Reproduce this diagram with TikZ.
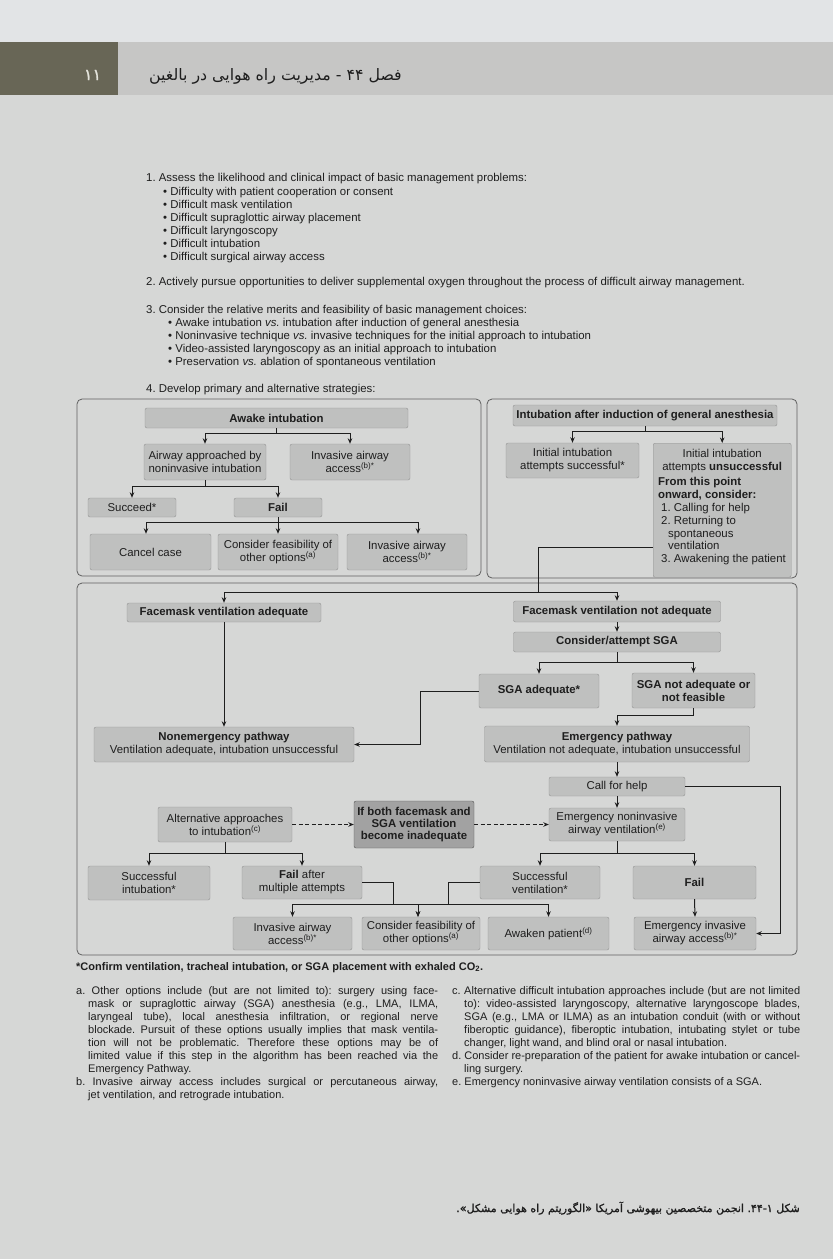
\documentclass[tikz,border=0pt]{standalone}
\usepackage{fontspec}
\setmainfont{Liberation Sans}
\newfontfamily\fa[Script=Arabic]{DejaVu Sans}
\newfontfamily\fab[Script=Arabic,FakeBold=1.2]{DejaVu Sans}
\TeXXeTstate=1
\frenchspacing
\usetikzlibrary{arrows.meta}
\definecolor{pagebg}{RGB}{214,215,214}
\definecolor{topstrip}{RGB}{226,228,230}
\definecolor{band}{RGB}{198,198,197}
\definecolor{darkbox}{RGB}{104,102,86}
\definecolor{numcol}{RGB}{228,228,220}
\definecolor{boxfill}{RGB}{191,192,191}
\definecolor{boxline}{RGB}{148,148,148}
\definecolor{darkfill}{RGB}{162,162,162}
\definecolor{darkline}{RGB}{85,85,85}
\definecolor{panelline}{RGB}{95,95,95}
\definecolor{ink}{RGB}{30,30,30}
\newcommand\nodefont{\fontsize{11.4}{13}\selectfont}
\newcommand\bodyfont{\fontsize{11.4}{13}\selectfont}
\newcommand\fnfont{\fontsize{11}{13}\selectfont}
\newcommand\mkbox[7][]{\node[box,#1,minimum width=#5pt-#3pt,minimum height=#6pt-#4pt] (#2) at ({(#3+#5)/2},{(#4+#6)/2}) {#7};}
\begin{document}
\begin{tikzpicture}[x=1pt,y=-1pt,
  box/.style={draw=boxline, fill=boxfill, rounded corners=2pt, align=center, inner sep=1pt, text=ink, font=\nodefont},
  panel/.style={draw=panelline, line width=0.8pt, rounded corners=5pt},
  ln/.style={draw=ink, line width=1pt},
  arr/.style={ln, -{Stealth[length=5.5pt,width=4.5pt]}},
  darr/.style={arr, dash pattern=on 4pt off 2.5pt},
  txt/.style={anchor=base west, inner sep=0, text=ink, font=\bodyfont}]
\useasboundingbox (0,0) rectangle (833,1259);
\fill[pagebg] (0,0) rectangle (833,1259);
\fill[topstrip] (0,0) rectangle (833,42);
\fill[band] (0,42) rectangle (833,95);
\fill[darkbox] (0,42) rectangle (118,95);
\node[font=\fab\fontsize{16}{18}\selectfont, text=numcol, inner sep=0] (pg) at (92.5,75) {۱۱};
\node[anchor=east, font=\fa\fontsize{15.8}{18}\selectfont, text=ink, inner sep=0] (title) at (402,76) {\beginR فصل ۴۴ - مدیریت راه هوایی در بالغین\endR};

% ---- numbered text
\node[txt] (t1) at (146,181) {1. Assess the likelihood and clinical impact of basic management problems:};
\node[txt] (t1a) at (163,195) {• Difficulty with patient cooperation or consent};
\node[txt] (t1b) at (163,208) {• Difficult mask ventilation};
\node[txt] (t1c) at (163,221) {• Difficult supraglottic airway placement};
\node[txt] (t1d) at (163,234) {• Difficult laryngoscopy};
\node[txt] (t1e) at (163,247) {• Difficult intubation};
\node[txt] (t1f) at (163,260) {• Difficult surgical airway access};
\node[txt] (t2) at (146,285) {2. Actively pursue opportunities to deliver supplemental oxygen throughout the process of difficult airway management.};
\node[txt] (t3) at (146,313) {3. Consider the relative merits and feasibility of basic management choices:};
\node[txt] (t3a) at (168,326) {• Awake intubation \textit{vs.} intubation after induction of general anesthesia};
\node[txt] (t3b) at (168,339) {• Noninvasive technique \textit{vs.} invasive techniques for the initial approach to intubation};
\node[txt] (t3c) at (168,352) {• Video-assisted laryngoscopy as an initial approach to intubation};
\node[txt] (t3d) at (168,365) {• Preservation \textit{vs.} ablation of spontaneous ventilation};
\node[txt] (t4) at (146,392) {4. Develop primary and alternative strategies:};

% ---- panels
\draw[panel] (77,399) rectangle (481,576);
\draw[panel] (487,399) rectangle (797,578);
\draw[panel] (77,583) rectangle (797,955);

% ---- awake panel
\mkbox{awake}{145}{408}{408}{428}{\textbf{Awake intubation}}
\mkbox{approach}{144}{444}{266}{480}{Airway approached by\\noninvasive intubation}
\mkbox{invA}{290}{444}{410}{480}{Invasive airway\\access\textsuperscript{(b)*}}
\mkbox{succeed}{88}{498}{176}{517}{Succeed*}
\mkbox{failA}{234}{498}{322}{517}{\textbf{Fail}}
\mkbox{cancel}{90}{534}{211}{570}{Cancel case}
\mkbox{consA}{218}{534}{338}{570}{Consider feasibility of\\other options\textsuperscript{(a)}}
\mkbox{invA2}{347}{534}{467}{570}{Invasive airway\\access\textsuperscript{(b)*}}
\draw[arr] (awake.south) -- ++(0,5) -| (approach.north);
\draw[arr] (awake.south) -- ++(0,5) -| (invA.north);
\draw[arr] (approach.south) -- ++(0,6) -| (succeed.north);
\draw[arr] (approach.south) -- ++(0,6) -| (failA.north);
\draw[arr] (failA.south) -- ++(0,5) -| ([xshift=-4.5pt]cancel.north);
\draw[arr] (failA.south) -- (consA.north);
\draw[arr] (failA.south) -- ++(0,5) -| ([xshift=11pt]invA2.north);

% ---- general anesthesia panel
\mkbox{intub}{513}{405}{777}{426}{\textbf{Intubation after induction of general anesthesia}}
\mkbox{initS}{506}{443}{639}{478}{Initial intubation\\attempts successful*}
\node[box, anchor=north west, minimum width=138pt, minimum height=134pt, inner sep=0pt, align=left] (unsucc) at (653,443) {\parbox[t][134pt][t]{138pt}{\fontsize{11.4}{12.8}\selectfont
  \centering\rule{0pt}{14pt}Initial intubation\\attempts \textbf{unsuccessful}\par
  \vspace{3pt}\raggedright
  \leftskip=5pt \textbf{From this point}\par
  \leftskip=5pt \textbf{onward, consider:}\par
  \leftskip=8pt 1. Calling for help\par
  \leftskip=8pt 2. Returning to\par
  \leftskip=15pt spontaneous\par
  \leftskip=15pt ventilation\par
  \leftskip=8pt 3. Awakening the patient\par}};
\draw[arr] (intub.south) -- ++(0,5) -| (initS.north);
\draw[arr] (intub.south) -- ++(0,5) -| (unsucc.north);

% ---- lower panel
\mkbox{fmA}{127}{603}{321}{622}{\textbf{Facemask ventilation adequate}}
\mkbox{fmN}{513.5}{601}{720.5}{622}{\textbf{Facemask ventilation not adequate}}
\mkbox{sgaC}{513.5}{632}{720.5}{652}{\textbf{Consider/attempt SGA}}
\mkbox{sgaA}{479}{674}{599}{708}{\textbf{SGA adequate*}}
\mkbox{sgaN}{632}{673}{755}{708}{\textbf{SGA not adequate or}\\\textbf{not feasible}}
\mkbox{nonE}{94}{727}{354}{762}{\textbf{Nonemergency pathway}\\Ventilation adequate, intubation unsuccessful}
\mkbox{emP}{484.5}{726}{749.5}{762}{\textbf{Emergency pathway}\\Ventilation not adequate, intubation unsuccessful}
\mkbox{callH}{549}{777}{685}{796}{Call for help}
\mkbox{emN}{549}{808}{685}{841}{Emergency noninvasive\\airway ventilation\textsuperscript{(e)}}
\mkbox[fill=darkfill, draw=darkline, font=\fontsize{11.4}{12.2}\selectfont\bfseries]{ifBoth}{354}{801}{474}{848}{If both facemask and\\SGA ventilation\\become inadequate}
\mkbox{alt}{158}{807}{292}{842}{Alternative approaches\\to intubation\textsuperscript{(c)}}
\mkbox{succI}{88}{866}{210}{900}{Successful\\intubation*}
\mkbox{failM}{242}{866}{362}{899}{\textbf{Fail} after\\multiple attempts}
\mkbox{succV}{480}{866}{600}{899}{Successful\\ventilation*}
\mkbox{failE}{633}{866}{756}{899}{\textbf{Fail}}
\mkbox{invB}{233}{917}{352}{950}{Invasive airway\\access\textsuperscript{(b)*}}
\mkbox{consB}{362}{917}{480}{950}{Consider feasibility of\\other options\textsuperscript{(a)}}
\mkbox{awaken}{488}{917}{609}{950}{Awaken patient\textsuperscript{(d)}}
\mkbox{emI}{634}{917}{756}{950}{Emergency invasive\\airway access\textsuperscript{(b)*}}

\coordinate (jt) at (538,592);
\draw[ln] ([yshift=-37pt]unsucc.west) -| (jt);
\draw[arr] (jt) -| (fmA.north);
\draw[arr] (jt) -| (fmN.north);
\draw[arr] (fmN.south) -- (sgaC.north);
\draw[arr] (sgaC.south) -- ++(0,10) -| (sgaA.north);
\draw[arr] (sgaC.south) -- ++(0,10) -| (sgaN.north);
\coordinate (ja) at (420,744.5);
\draw[arr] (sgaA.west) -| (ja) -- (nonE.east);
\draw[arr] (fmA.south) -- (nonE.north);
\draw[arr] (sgaN.south) -- ++(0,7) -| (emP.north);
\draw[arr] (emP.south) -- (callH.north);
\draw[arr] (callH.south) -- (emN.north);
\coordinate (jc) at (780,933.5);
\draw[arr] (callH.east) -| (jc) -- (emI.east);
\draw[darr] (alt.east) -- (ifBoth.west);
\draw[darr] (ifBoth.east) -- (emN.west);
\draw[arr] (alt.south) -- ++(0,11) -| (succI.north);
\draw[arr] (alt.south) -- ++(0,11) -| (failM.north);
\draw[arr] (emN.south) -- ++(0,12) -| (succV.north);
\draw[arr] (emN.south) -- ++(0,12) -| (failE.north);
\draw[arr] (failE.south) -- (emI.north);
\coordinate (j1) at (393,904);
\coordinate (j2) at (448,904);
\draw[arr] (failM.east) -| (j1) -| (invB.north);
\draw[arr] (j1) -| ([xshift=-3pt]consB.north);
\draw[arr] (succV.west) -| (j2) -| (awaken.north);
\draw[arr] (j2) -| ([xshift=-3pt]consB.north);

% ---- notes
\node[txt, font=\fnfont\bfseries] (conf) at (76,970) {*Confirm ventilation, tracheal intubation, or SGA placement with exhaled CO\textsubscript{2}.};
\node[anchor=base west, inner sep=0, text=ink] (fnL) at (76,994) {\parbox[t]{362pt}{\fnfont
\hangindent=12pt\hangafter=1\noindent a.~Other options include (but are not limited to): surgery using face-\linebreak mask or supraglottic airway (SGA) anesthesia (e.g., LMA, ILMA,\linebreak laryngeal tube), local anesthesia infiltration, or regional nerve\linebreak blockade. Pursuit of these options usually implies that mask ventila-\linebreak tion will not be problematic. Therefore these options may be of\linebreak limited value if this step in the algorithm has been reached via the\linebreak Emergency Pathway.\par
\hangindent=12pt\hangafter=1\noindent b.~Invasive airway access includes surgical or percutaneous airway,\linebreak jet ventilation, and retrograde intubation.\par}};
\node[anchor=base west, inner sep=0, text=ink] (fnR) at (452,994) {\parbox[t]{348pt}{\fnfont
\hangindent=12pt\hangafter=1\noindent c.~Alternative difficult intubation approaches include (but are not limited\linebreak to): video-assisted laryngoscopy, alternative laryngoscope blades,\linebreak SGA (e.g., LMA or ILMA) as an intubation conduit (with or without\linebreak fiberoptic guidance), fiberoptic intubation, intubating stylet or tube\linebreak changer, light wand, and blind oral or nasal intubation.\par
\hangindent=12pt\hangafter=1\noindent d.~Consider re-preparation of the patient for awake intubation or cancel-\linebreak ling surgery.\par
\hangindent=12pt\hangafter=1\noindent e.~Emergency noninvasive airway ventilation consists of a SGA.\par}};

\node[anchor=base east, inner sep=0, text=ink, font=\fab\fontsize{11}{13}\selectfont] (cap) at (800,1212) {\beginR شکل ۱\kern0pt-\kern0pt۴۴\kern0pt. انجمن متخصصین بیهوشی آمریکا «الگوریتم راه هوایی مشکل».\endR};
\end{tikzpicture}
\end{document}
